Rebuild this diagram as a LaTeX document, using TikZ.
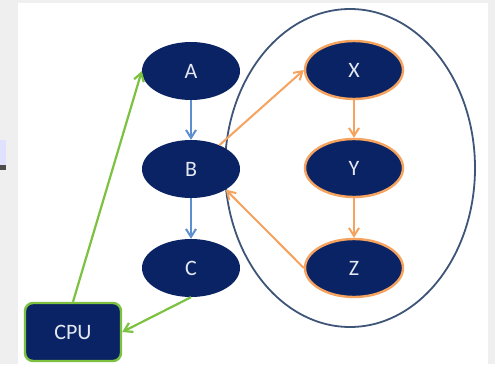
\documentclass[tikz,border=0pt]{standalone}
\usepackage{fontspec}
\setmainfont{Carlito}
\usetikzlibrary{arrows.meta,shapes.geometric}
\definecolor{navy}{HTML}{0A2364}
\definecolor{lbl}{HTML}{E4E8F2}
\definecolor{flowblue}{HTML}{5C8ED0}
\definecolor{floworange}{HTML}{F5A35E}
\definecolor{flowgreen}{HTML}{7CC240}
\definecolor{ring}{HTML}{3E5578}
\definecolor{frame}{HTML}{EFEFEF}
\tikzset{
  proc/.style={ellipse, fill=navy, minimum width=98pt, minimum height=58pt,
    inner sep=0pt, text=lbl, font=\fontsize{22}{24}\selectfont},
  thread/.style={proc, draw=floworange, line width=2.4pt},
  cpubox/.style={rectangle, rounded corners=8pt, fill=navy, draw=flowgreen,
    line width=2.4pt, minimum width=96pt, minimum height=58pt, inner sep=0pt,
    text=lbl, font=\fontsize{22}{24}\selectfont},
  tipb/.style={-{Straight Barb[length=8pt,width=10pt]}, line width=2pt},
  ab/.style={tipb, draw=flowblue},
  ao/.style={tipb, draw=floworange},
  ag/.style={tipb, draw=flowgreen, line width=2.2pt},
}
\begin{document}
\begin{tikzpicture}[x=1pt,y=-1pt]
  % page frame and panel
  \fill[frame] (0,0) rectangle (495,364);
  \fill[white] (18,3) rectangle (488,364);
  \fill[blue!12] (0,140) rectangle (6,165);
  \fill[black!70] (0,165) rectangle (6,170);

  % address space enclosing the threads
  \node[ellipse, draw=ring, line width=1.8pt, minimum width=250pt,
        minimum height=318pt, inner sep=0pt] (grp) at (350,168) {};

  % process nodes
  \node[proc] (A) at (191,71) {A};
  \node[proc] (B) at (191,169) {B};
  \node[proc] (C) at (191,268) {C};
  \node[thread] (X) at (354,70) {X};
  \node[thread] (Y) at (354,168) {Y};
  \node[thread] (Z) at (354,268) {Z};
  \node[cpubox] (CPU) at (73,332) {CPU};

  % connectors
  \draw[ab] (A) -- (B);
  \draw[ab] (B) -- (C);
  \draw[ao] (X) -- (Y);
  \draw[ao] (Y) -- (Z);
  \draw[ao] (B.40) -- (X.west);
  \draw[ao] (Z.west) -- (B.south east);
  \draw[ag] (CPU.north) -- (A.west);
  \draw[ag] (C.south) -- (CPU.east);
\end{tikzpicture}
\end{document}
